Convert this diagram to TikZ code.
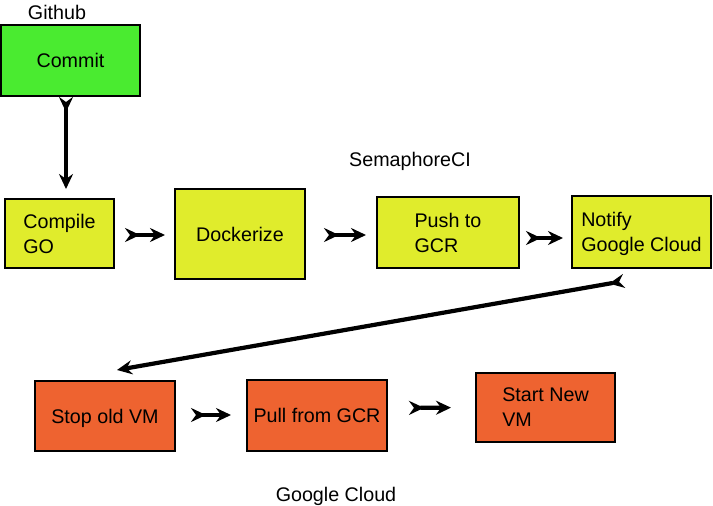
\documentclass[tikz,border=0pt]{standalone}
\usepackage{fontspec}
\setmainfont{Liberation Sans}
\usetikzlibrary{arrows.meta,calc}
\definecolor{cgreen}{HTML}{4AEB30}
\definecolor{cyellow}{HTML}{E0EC2C}
\definecolor{corange}{HTML}{EE6330}
\begin{document}
\begin{tikzpicture}[x=1pt,y=-1pt,
  txt/.style={font=\fontsize{19.7}{25}\selectfont, inner sep=0pt},
  box/.style={txt, draw=black, line width=2pt, align=left, text depth=-2pt},
  flow/.style={line width=4.2pt, {Stealth[reversed,length=15pt,width=14pt,inset=5pt]}-{Stealth[length=15pt,width=14pt,inset=5pt]}}
]
\useasboundingbox (0,0) rectangle (713,506);
\node[box, fill=cgreen, minimum width=139pt, minimum height=71pt] (commit) at (70.5,60.5) {Commit};
\node[box, fill=cyellow, minimum width=109pt, minimum height=69pt] (compile) at (59.5,233.5) {Compile\\GO};
\node[box, fill=cyellow, minimum width=130pt, minimum height=90pt] (docker) at (240,234) {Dockerize};
\node[box, fill=cyellow, minimum width=142pt, minimum height=71pt] (push) at (448,232.5) {Push to\\GCR};
\node[box, fill=cyellow, minimum width=139pt, minimum height=72pt] (notify) at (641.5,232) {Notify\\Google Cloud};
\node[box, fill=corange, minimum width=140pt, minimum height=70pt] (stop) at (105,416) {Stop old VM};
\node[box, fill=corange, minimum width=140pt, minimum height=71pt] (pull) at (317,415.5) {Pull from GCR};
\node[box, fill=corange, minimum width=139pt, minimum height=69pt] (start) at (545.5,407.5) {Start New\\VM};
\node[txt] (lgithub) at (57,12) {Github};
\node[txt] (lsema) at (410,161) {SemaphoreCI};
\node[txt] (lgoogle) at (336,496) {Google Cloud};
\draw[flow] ($(commit.south)+(-4.5,0)$) -- ($(compile.north)+(6.5,-9)$);
\draw[flow, shorten <=10pt, shorten >=9pt] ($(compile.east)+(0,1.5)$) -- ($(docker.west)+(0,1)$);
\draw[flow, shorten <=18pt, shorten >=10pt] ($(docker.east)+(0,1)$) -- ($(push.west)+(0,2.5)$);
\draw[flow, shorten <=6pt, shorten >=8pt] ($(push.east)+(0,5.5)$) -- ($(notify.west)+(0,6)$);
\draw[flow] ($(notify.south west)+(53,12)$) -- ($(stop.north west)+(83,-10)$);
\draw[flow, shorten <=15pt, shorten >=15pt] ($(stop.east)+(0,-1)$) -- ($(pull.west)+(0,-0.5)$);
\draw[flow, shorten <=21pt, shorten >=24pt] ($(pull.east)+(0,-7.5)$) -- (start.west);
\end{tikzpicture}
\end{document}
